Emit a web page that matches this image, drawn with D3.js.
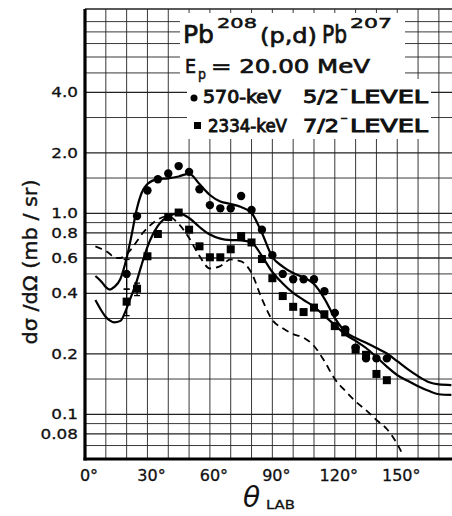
<!DOCTYPE html>
<html>
<head>
<meta charset="utf-8">
<script src="https://cdn.jsdelivr.net/npm/d3@7"></script>
<style>
  body { margin: 0; background: #fff; }
  svg { display: block; }
  text { font-family: "DejaVu Sans", sans-serif; fill: #111; }
</style>
</head>
<body>
<svg id="chart" width="452" height="516"></svg>
<script>
// measured points, 5 deg steps
const dataAngles = [20, 25, 30, 35, 40, 45, 50, 55, 60, 65, 70, 75, 80, 85, 90, 95, 100, 105, 110, 115, 120, 125, 130, 135, 140, 145]
const level570 = [0.50, 0.97, 1.30, 1.48, 1.58, 1.72, 1.61, 1.32, 1.10, 1.06, 1.06, 1.22, 1.04, 0.83, 0.62, 0.50, 0.47, 0.47, 0.47, 0.41, 0.32, 0.265, 0.215, 0.19, 0.19, 0.19]
const level2334 = [0.364, 0.422, 0.612, 0.79, 0.96, 1.01, 0.83, 0.686, 0.605, 0.605, 0.663, 0.772, 0.717, 0.593, 0.476, 0.388, 0.343, 0.323, 0.34, 0.315, 0.275, 0.256, 0.21, 0.198, 0.159, 0.148]

// error bars on the forward points
const errAngles = [20, 20, 25]
const errLow = [0.42, 0.31, 0.39]
const errHigh = [0.59, 0.42, 0.45]

// theory curves
const curveAngles = [5, 8, 10, 12, 14, 17, 20, 22, 25, 27, 30, 35, 40, 45, 50, 55, 60, 65, 70, 75, 80, 85, 90, 95, 100, 105, 110, 115, 120, 125, 130, 135, 140, 145, 150, 155, 160, 165, 170, 176]
const fit570 = [0.488, 0.456, 0.43, 0.418, 0.43, 0.472, 0.60, 0.746, 1.064, 1.249, 1.401, 1.48, 1.495, 1.527, 1.579, 1.40, 1.235, 1.146, 1.114, 1.076, 1.005, 0.799, 0.607, 0.544, 0.505, 0.48, 0.445, 0.377, 0.302, 0.258, 0.24, 0.227, 0.214, 0.201, 0.184, 0.168, 0.155, 0.145, 0.141, 0.14]
const fit2334 = [0.371, 0.327, 0.305, 0.293, 0.287, 0.292, 0.337, 0.382, 0.466, 0.547, 0.681, 0.866, 0.968, 1.0, 0.949, 0.856, 0.785, 0.749, 0.737, 0.735, 0.717, 0.614, 0.511, 0.448, 0.402, 0.371, 0.344, 0.309, 0.279, 0.25, 0.232, 0.214, 0.193, 0.173, 0.157, 0.147, 0.138, 0.131, 0.126, 0.125]
const dashAngles = [5, 8, 10, 12, 14, 17, 20, 22, 25, 27, 30, 35, 40, 45, 50, 55, 60, 65, 70, 75, 80, 85, 90, 95, 100, 105, 110, 115, 120, 125, 130, 135, 140, 145, 150, 152]
const dashCurve = [0.685, 0.665, 0.65, 0.628, 0.603, 0.60, 0.628, 0.661, 0.729, 0.781, 0.846, 0.933, 0.969, 0.886, 0.755, 0.614, 0.532, 0.547, 0.59, 0.577, 0.505, 0.375, 0.295, 0.268, 0.251, 0.241, 0.219, 0.184, 0.15, 0.131, 0.116, 0.105, 0.0938, 0.0846, 0.0712, 0.065]

// axes
const yTickValues = [4, 2, 1, 0.8, 0.6, 0.4, 0.2, 0.1, 0.08]
const yTickLabels = ['4.0', '2.0', '1.0', '0.8', '0.6', '0.4', '0.2', '0.1', '0.08']
const yGrid = [0.06, 0.07, 0.08, 0.09, 0.1, 0.15, 0.2, 0.3, 0.4, 0.5, 0.6, 0.7, 0.8, 0.9, 1, 1.5, 2, 3, 4, 5, 6, 7, 8, 9]
const xTickValues = [0, 30, 60, 90, 120, 150]
const xGrid = d3.range(10, 180, 10)

const svg = d3.select('#chart')
svg.append('rect').attr('width', 452).attr('height', 516).attr('fill', '#fff')

const x = d3.scaleLinear().domain([0, 176.3]).range([85, 452])
const y = d3.scaleLog().domain([0.06, 10.4]).range([459, 9])

const plotLeft = x.range()[0], plotRight = x.range()[1]
const plotTop = y.range()[1], plotBottom = y.range()[0]

/* grid */
const grid = svg.append('g').attr('stroke', '#222')
grid.selectAll('.hg').data(yGrid).join('line')
    .attr('x1', plotLeft).attr('x2', plotRight)
    .attr('y1', d => y(d)).attr('y2', d => y(d))
    .attr('stroke-width', d => yTickValues.includes(d) ? 1.3 : 0.9)
grid.selectAll('.vg').data(xGrid).join('line')
    .attr('x1', d => x(d)).attr('x2', d => x(d))
    .attr('y1', plotTop).attr('y2', plotBottom)
    .attr('stroke-width', 0.9)
grid.append('line').attr('x1', plotLeft).attr('x2', plotRight)
    .attr('y1', plotTop).attr('y2', plotTop).attr('stroke-width', 1.4)

/* white boxes behind the caption */
svg.append('rect').attr('x', 180).attr('y', 13).attr('width', 225).attr('height', 66).attr('fill', '#fff')
svg.append('rect').attr('x', 187).attr('y', 79).attr('width', 244).attr('height', 60).attr('fill', '#fff')

/* curves */
const line = d3.line().curve(d3.curveMonotoneX)
    .x(d => x(d[0])).y(d => y(d[1]))

svg.append('path').datum(d3.zip(curveAngles, fit570))
    .attr('d', line).attr('fill', 'none').attr('stroke', '#000').attr('stroke-width', 2.2)
svg.append('path').datum(d3.zip(curveAngles, fit2334))
    .attr('d', line).attr('fill', 'none').attr('stroke', '#000').attr('stroke-width', 2.2)
svg.append('path').datum(d3.zip(dashAngles, dashCurve))
    .attr('d', line).attr('fill', 'none').attr('stroke', '#000').attr('stroke-width', 1.8)
    .attr('stroke-dasharray', '7,5')

/* error bars */
const eb = svg.append('g').attr('stroke', '#000').attr('stroke-width', 1.3)
errAngles.forEach((a, i) => {
  eb.append('line').attr('x1', x(a)).attr('x2', x(a)).attr('y1', y(errLow[i])).attr('y2', y(errHigh[i]))
  eb.append('line').attr('x1', x(a) - 3).attr('x2', x(a) + 3).attr('y1', y(errLow[i])).attr('y2', y(errLow[i]))
  eb.append('line').attr('x1', x(a) - 3).attr('x2', x(a) + 3).attr('y1', y(errHigh[i])).attr('y2', y(errHigh[i]))
})

/* markers */
svg.append('g').selectAll('circle').data(d3.zip(dataAngles, level570)).join('circle')
    .attr('cx', d => x(d[0])).attr('cy', d => y(d[1])).attr('r', 4.2).attr('fill', '#000')
svg.append('g').selectAll('rect').data(d3.zip(dataAngles, level2334)).join('rect')
    .attr('x', d => x(d[0]) - 4).attr('y', d => y(d[1]) - 4)
    .attr('width', 8).attr('height', 8).attr('fill', '#000')

/* axis frame */
svg.append('line').attr('x1', plotLeft).attr('x2', plotLeft).attr('y1', plotTop).attr('y2', plotBottom + 1.5)
    .attr('stroke', '#000').attr('stroke-width', 3.2)
svg.append('line').attr('x1', plotLeft - 1.5).attr('x2', plotRight).attr('y1', plotBottom).attr('y2', plotBottom)
    .attr('stroke', '#000').attr('stroke-width', 3.2)

/* tick labels */
svg.append('g').selectAll('text').data(yTickValues).join('text')
    .attr('transform', d => `translate(78,${y(d) + 5}) scale(1.2,1)`)
    .attr('text-anchor', 'end')
    .style('font-size', '14px')
    .style('stroke', '#111').style('stroke-width', 0.3)
    .text((d, i) => yTickLabels[i])

svg.append('g').selectAll('text').data(xTickValues).join('text')
    .attr('x', d => x(d) + 4).attr('y', 481)
    .attr('text-anchor', 'middle')
    .style('font-size', '16px')
    .style('stroke', '#111').style('stroke-width', 0.3)
    .text(d => `${d}°`)

/* axis titles */
svg.append('text').attr('x', 243).attr('y', 507)
    .style('font-size', '28px').style('font-style', 'italic').text('θ')
svg.append('text').attr('x', 266).attr('y', 509)
    .attr('textLength', 29).attr('lengthAdjust', 'spacingAndGlyphs')
    .style('font-size', '13px').style('stroke', '#111').style('stroke-width', 0.3)
    .text('LAB')

svg.append('text')
    .attr('transform', 'translate(37,262) rotate(-90)')
    .attr('text-anchor', 'middle')
    .attr('textLength', 165).attr('lengthAdjust', 'spacingAndGlyphs')
    .style('font-size', '19px')
    .style('stroke', '#111').style('stroke-width', 0.4)
    .text('dσ /dΩ (mb / sr)')

/* caption */
function label(tx, ty, str, size, len, sw) {
  const t = svg.append('text').attr('x', tx).attr('y', ty)
      .style('font-size', size + 'px')
      .style('stroke', '#111').style('stroke-width', sw == null ? 0.7 : sw)
      .text(str)
  if (len) t.attr('textLength', len).attr('lengthAdjust', 'spacingAndGlyphs')
  return t
}
label(183, 43, 'Pb', 24, 31)
label(217, 28, '208', 14, 40, 0.5)
label(260, 43, '(p,d)', 22, 57)
label(322, 43, 'Pb', 24, 25)
label(350, 28, '207', 14, 42, 0.5)

label(185, 73, 'E', 20, 11)
label(198, 79, 'p', 14, 8, 0.5)
label(211, 73, '= 20.00 MeV', 20, 159)

svg.append('circle').attr('cx', 194).attr('cy', 98).attr('r', 3.5).attr('fill', '#000')
label(203, 103, '570-keV', 17, 78, 0.9)
label(303, 103, '5/2', 17, 36, 0.9)
label(340, 93, '−', 12, 8, 0.6)
label(350, 103, 'LEVEL', 17, 78, 0.9)

svg.append('rect').attr('x', 194).attr('y', 122).attr('width', 7).attr('height', 7).attr('fill', '#000')
label(208, 132, '2334-keV', 17, 79, 0.9)
label(303, 132, '7/2', 17, 36, 0.9)
label(340, 122, '−', 12, 8, 0.6)
label(350, 132, 'LEVEL', 17, 78, 0.9)
</script>
</body>
</html>
